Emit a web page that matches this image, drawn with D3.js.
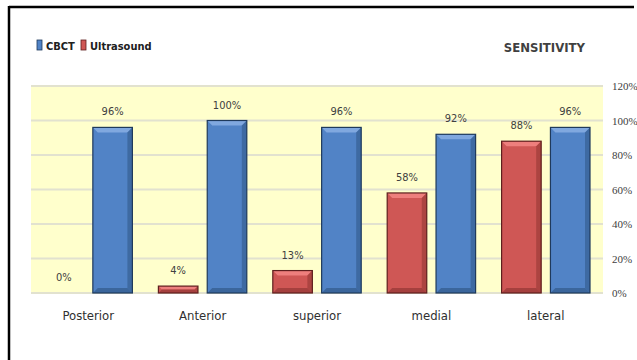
<!DOCTYPE html>
<html>
<head>
<meta charset="utf-8">
<script src="https://cdn.jsdelivr.net/npm/d3@7"></script>
<style>
  body { margin: 0; background: #fff; }
</style>
</head>
<body>
<div id="chart"></div>
<script>
// chart data
var categories = ["Posterior", "Anterior", "superior", "medial", "lateral"];
var seriesNames = ["Ultrasound", "CBCT"];
var ultrasound = [0, 4, 13, 58, 88];
var cbct = [96, 100, 96, 92, 96];
var yTicks = [0, 20, 40, 60, 80, 100, 120];

var narrow = "'Liberation Sans Narrow', 'Arial Narrow', 'DejaVu Sans Condensed', sans-serif";
var serif = "'Liberation Serif', 'DejaVu Serif', serif";

var colors = {
  CBCT: { main: "#5183c6", light: "#80a8df", dark: "#2f5685", edge: "#1f3a5c" },
  Ultrasound: { main: "#cf5755", light: "#ee7f7d", dark: "#8f3432", edge: "#5e1f1e" }
};

var W = 637, H = 360;
var plot = { left: 31, right: 603, top: 86, bottom: 293 };

var svg = d3.select("#chart").append("svg")
    .attr("width", W)
    .attr("height", H)
    .attr("font-family", narrow);

// outer frame (top + left edge visible)
svg.append("line").attr("x1", 9).attr("x2", 634).attr("y1", 7).attr("y2", 7)
   .attr("stroke", "#000").attr("stroke-width", 2.5);
svg.append("line").attr("x1", 9).attr("x2", 9).attr("y1", 6).attr("y2", H)
   .attr("stroke", "#000").attr("stroke-width", 2.5);

var xScale = d3.scaleBand().domain(categories).range([plot.left, plot.right]);
var yScale = d3.scaleLinear().domain([0, 120]).range([plot.bottom, plot.top]);

// plot background
svg.append("rect")
   .attr("x", plot.left).attr("y", plot.top)
   .attr("width", plot.right - plot.left).attr("height", plot.bottom - plot.top)
   .attr("fill", "#ffffcc");

// gridlines
svg.selectAll(".grid")
   .data(yTicks)
   .enter().append("line")
   .attr("class", "grid")
   .attr("x1", plot.left).attr("x2", plot.right)
   .attr("y1", function(d) { return yScale(d); })
   .attr("y2", function(d) { return yScale(d); })
   .attr("stroke", "#e2e2cf").attr("stroke-width", 2);

// right axis
var yAxis = svg.append("g")
   .attr("transform", "translate(" + (plot.right + 7) + ",0)")
   .call(d3.axisRight(yScale).tickValues(yTicks).tickSize(0).tickFormat(function(d) { return d + "%"; }));
yAxis.attr("font-family", serif).attr("font-size", 11);
yAxis.select(".domain").remove();
yAxis.selectAll("text").attr("x", 2).attr("fill", "#404040");

// category axis
var xAxis = svg.append("g")
   .attr("transform", "translate(0," + (plot.bottom + 15) + ")")
   .call(d3.axisBottom(xScale).tickSize(0));
xAxis.attr("font-family", narrow).attr("font-size", 13);
xAxis.select(".domain").remove();
xAxis.selectAll("text").attr("fill", "#303030");

var xSub = d3.scaleBand().domain(seriesNames).range([13, xScale.bandwidth() - 13]).paddingInner(0.19);

var bars = [];
categories.forEach(function(c, i) {
  bars.push({ cat: c, series: "Ultrasound", value: ultrasound[i] });
  bars.push({ cat: c, series: "CBCT", value: cbct[i] });
});

function bevel(g, d) {
  var x = xScale(d.cat) + xSub(d.series), w = xSub.bandwidth();
  var y = yScale(d.value), h = yScale(0) - y;
  var col = colors[d.series];
  if (h <= 0) return;
  var b = Math.min(5, h / 2);
  g.append("rect").attr("x", x).attr("y", y).attr("width", w).attr("height", h).attr("fill", col.main);
  // top bevel
  g.append("polygon").attr("fill", col.light)
   .attr("points", [[x, y], [x + w, y], [x + w - b, y + b], [x + b, y + b]].join(" "));
  // right bevel
  g.append("polygon").attr("fill", col.dark).attr("opacity", 0.55)
   .attr("points", [[x + w, y], [x + w, y + h], [x + w - b, y + h - b], [x + w - b, y + b]].join(" "));
  // bottom bevel
  g.append("polygon").attr("fill", col.dark).attr("opacity", 0.65)
   .attr("points", [[x, y + h], [x + b, y + h - b], [x + w - b, y + h - b], [x + w, y + h]].join(" "));
  g.append("rect").attr("x", x).attr("y", y).attr("width", w).attr("height", h)
   .attr("fill", "none").attr("stroke", col.edge).attr("stroke-width", 1.2);
}

var barG = svg.append("g");
bars.forEach(function(d) { bevel(barG.append("g"), d); });

// value labels
svg.selectAll(".lbl")
   .data(bars)
   .enter().append("text")
   .attr("class", "lbl")
   .attr("x", function(d) { return xScale(d.cat) + xSub(d.series) + xSub.bandwidth() / 2; })
   .attr("y", function(d) { return yScale(d.value) - 12; })
   .attr("text-anchor", "middle")
   .attr("font-size", 11).attr("fill", "#404040")
   .text(function(d) { return d.value + "%"; });

// legend
var legend = [{ name: "CBCT", x: 37 }, { name: "Ultrasound", x: 81 }];
var lg = svg.selectAll(".leg").data(legend).enter().append("g")
   .attr("transform", function(d) { return "translate(" + d.x + ",40)"; });
lg.append("rect").attr("width", 5).attr("height", 10)
   .attr("fill", function(d) { return colors[d.name].main; })
   .attr("stroke", function(d) { return colors[d.name].edge; }).attr("stroke-width", 0.8);
lg.append("text").attr("x", 9).attr("y", 9.5)
   .attr("font-size", 11).attr("font-weight", "bold").attr("fill", "#202020")
   .text(function(d) { return d.name; });

// title
svg.append("text").attr("x", 585).attr("y", 52).attr("text-anchor", "end")
   .attr("font-size", 13).attr("font-weight", "bold").attr("fill", "#404040")
   .text("SENSITIVITY");
</script>
</body>
</html>
